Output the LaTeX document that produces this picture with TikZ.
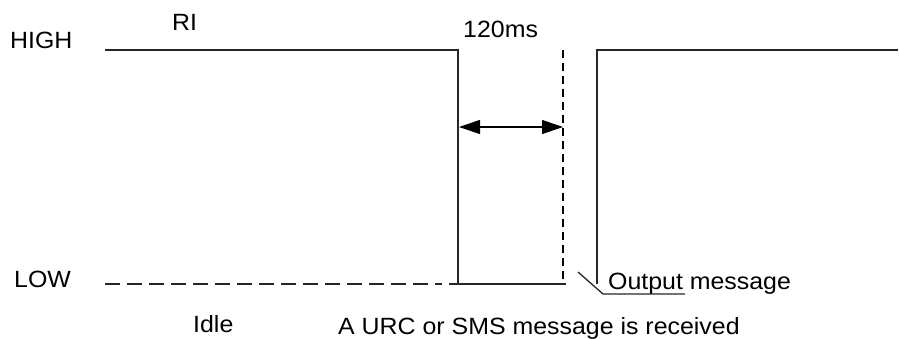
\documentclass[tikz,border=0pt]{standalone}
\usepackage{fontspec}
\setmainfont[FakeStretch=1.06]{Liberation Sans}
\usetikzlibrary{arrows.meta}
\begin{document}
\begin{tikzpicture}[x=1pt,y=-1pt,
  lbl/.style={inner sep=0pt,anchor=base west,font=\fontsize{23.5}{28}\selectfont},
  wave/.style={line width=1.3pt,black!85},
  dashline/.style={wave,dash pattern=on 15pt off 7pt},
  vdash/.style={line width=1.1pt,black,dash pattern=on 8pt off 5pt},
  dim/.style={line width=1.1pt,{Triangle[length=21pt,width=14pt]}-{Triangle[length=21pt,width=14pt]}}]
\useasboundingbox (0,0) rectangle (899,338);
% labels
\node[lbl] (high) at (10,48) {HIGH};
\node[lbl] (ri) at (172,30) {RI};
\node[lbl] (t120) at (463,37) {120ms};
\node[lbl] (low) at (14,287) {LOW};
\node[lbl] (idle) at (193,332) {Idle};
\node[lbl] (urc) at (338,334) {A URC or SMS message is received};
\node[lbl] (out) at (608,289) {Output message};
% waveform coordinates
\coordinate (h0) at (105,50);
\coordinate (h1) at (458,50);
\coordinate (l1) at (458,284);
\coordinate (l0) at (449,284);
\coordinate (l2) at (566,284);
\coordinate (r0) at (597,284);
\coordinate (r1) at (597,50);
\coordinate (h2) at (898,50);
\coordinate (d0) at (105,284);
\coordinate (d1) at (442,284);
\coordinate (v0) at (563,50);
\coordinate (v1) at (563,284);
\coordinate (a0) at (459,127);
\coordinate (a1) at (563,127);
\coordinate (k0) at (578,272);
\coordinate (k1) at (603,294);
\coordinate (k2) at (685,294);
% drawing
\draw[wave] (h0) -- (h1) -- (l1);
\draw[wave] (l0) -- (l2);
\draw[wave] (r0) -- (r1) -- (h2);
\draw[dashline] (d0) -- (d1);
\draw[vdash] (v0) -- (v1);
\draw[dim] (a0) -- (a1);
\draw[wave] (k0) -- (k1) -- (k2);
\end{tikzpicture}
\end{document}
